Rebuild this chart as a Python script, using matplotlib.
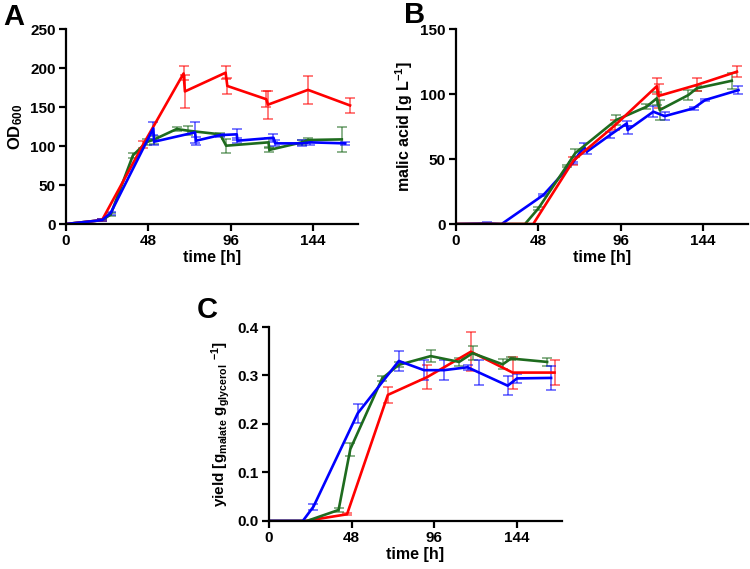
import matplotlib
matplotlib.use('Agg')
import matplotlib.pyplot as plt

plt.rcParams['font.family'] = ['Liberation Sans', 'DejaVu Sans']
plt.rcParams['font.weight'] = 'bold'
plt.rcParams['mathtext.fontset'] = 'custom'
plt.rcParams['mathtext.bf'] = 'Liberation Sans:bold'
plt.rcParams['mathtext.rm'] = 'Liberation Sans:bold'
plt.rcParams['mathtext.default'] = 'bf'

RED = '#ff0000'
GREEN = '#1e6b1e'
BLUE = '#0000ff'

# Panel A: OD600
a_red_t = [0, 21, 45, 68.5, 69.3, 93, 94, 116.7, 117.7, 141, 165.5]
a_red_y = [0, 5, 102, 193, 170, 194, 177, 160, 153, 172, 152]
a_red_e = [0, 1, 5, 9, 21, 8, 10, 10, 18, 18, 10]
a_green_t = [0, 21, 26, 39, 47, 51, 64.5, 71.3, 89.8, 93.3, 118, 118.5, 137.4, 141.3, 160.7]
a_green_y = [0, 5, 12, 88, 105, 108, 121.8, 119.6, 115, 100.4, 104.7, 95, 104.7, 107.7, 108.5]
a_green_e = [0, 1, 2, 3, 4, 5, 3, 6, 2, 9, 6, 3, 3, 3, 16]
a_blue_t = [0, 21, 26, 50.9, 51.3, 75.2, 75.8, 89.8, 99.5, 99.9, 120.9, 121.9, 137.4, 142.3, 162.7]
a_blue_y = [0, 5, 14, 122.7, 105.5, 117.5, 106.8, 114, 115, 106.8, 110.6, 103.4, 103.4, 104.7, 103.4]
a_blue_e = [0, 1, 2, 8, 4, 13, 5, 2, 7, 3, 5, 4, 4, 3, 2]

# Panel B: malic acid
b_red_t = [0, 45, 68.4, 92.7, 117, 118, 140.3, 163.7]
b_red_y = [0, 0, 48.7, 76, 106, 98.5, 107, 117.2]
b_red_e = [0, 0, 3, 4, 6, 9, 5, 4]
b_green_t = [0, 40.2, 48, 64.5, 69.4, 93.3, 111, 117, 118.7, 135.4, 140.3, 160.7]
b_green_y = [0, 0, 12, 44.6, 54.4, 80, 90.2, 96.7, 87.7, 99.2, 104.4, 110.2]
b_green_e = [0, 0, 1, 1, 3, 4, 2, 5, 8, 4, 2, 6]
b_blue_t = [0, 18, 26.6, 50.9, 68, 74.6, 76.2, 89.8, 99.5, 100, 115, 121.6, 138.4, 145.2, 164.6]
b_blue_y = [0, 0.5, 0, 22.3, 47, 59.5, 55.6, 68.5, 77.4, 72.3, 86.4, 83, 89, 95.4, 103]
b_blue_e = [0, 1, 0, 1, 1, 3, 2, 2, 2, 3, 4, 3, 1, 1, 3]

# Panel C: yield
c_red_t = [0, 21, 45.3, 69, 92, 117.2, 141.5, 165.8]
c_red_y = [0, 0, 0.0138, 0.26, 0.297, 0.349, 0.306, 0.306]
c_red_e = [0, 0, 0.002, 0.017, 0.025, 0.04, 0.033, 0.026]
c_green_t = [0, 22, 40.4, 47.2, 65.7, 75.4, 93.9, 110.4, 118.2, 135.7, 140.5, 161.5]
c_green_y = [0, 0, 0.0227, 0.148, 0.294, 0.322, 0.34, 0.328, 0.346, 0.323, 0.335, 0.328]
c_green_e = [0, 0, 0.005, 0.013, 0.005, 0.005, 0.013, 0.008, 0.015, 0.01, 0.003, 0.008]
c_blue_t = [0, 19.6, 25.8, 51.5, 75.4, 90, 101.6, 115.3, 122, 138.6, 144, 163.8]
c_blue_y = [0, 0, 0.0295, 0.222, 0.33, 0.311, 0.311, 0.317, 0.306, 0.279, 0.294, 0.295]
c_blue_e = [0, 0, 0.006, 0.02, 0.02, 0.02, 0.02, 0.005, 0.025, 0.02, 0.01, 0.025]

xticks = [0, 48, 96, 144]

fig = plt.figure(figsize=(7.5, 5.69), dpi=100)
axA = fig.add_axes([0.088, 0.6063, 0.389, 0.3427])
axB = fig.add_axes([0.608, 0.6063, 0.389, 0.3427])
axC = fig.add_axes([0.3587, 0.0844, 0.3903, 0.3409])


def draw(ax, series):
    for t, y, e, c in series:
        ax.errorbar(t, y, yerr=e, color=c, lw=1.9, elinewidth=1.1, capsize=3.5,
                    capthick=1.1, ecolor=(c, 0.65))


draw(axA, [(a_green_t, a_green_y, a_green_e, GREEN),
           (a_red_t, a_red_y, a_red_e, RED),
           (a_blue_t, a_blue_y, a_blue_e, BLUE)])
draw(axB, [(b_blue_t, b_blue_y, b_blue_e, BLUE),
           (b_green_t, b_green_y, b_green_e, GREEN),
           (b_red_t, b_red_y, b_red_e, RED)])
draw(axC, [(c_red_t, c_red_y, c_red_e, RED),
           (c_green_t, c_green_y, c_green_e, GREEN),
           (c_blue_t, c_blue_y, c_blue_e, BLUE)])

for ax in (axA, axB, axC):
    ax.spines['top'].set_visible(False)
    ax.spines['right'].set_visible(False)
    ax.spines['left'].set_linewidth(1.6)
    ax.spines['bottom'].set_linewidth(1.6)
    ax.tick_params(width=1.6, length=5, labelsize=11, pad=2.5)
    ax.set_xlim(0, 170)
    ax.set_xticks(xticks)
    ax.set_xlabel('time [h]', fontsize=11.5, fontweight='bold', labelpad=1)
    for lbl in ax.get_xticklabels() + ax.get_yticklabels():
        lbl.set_fontweight('bold')

axA.set_ylim(0, 250)
axA.set_yticks([0, 50, 100, 150, 200, 250])
axA.set_ylabel('OD$_{600}$', fontsize=12, fontweight='bold', labelpad=4)

axB.set_ylim(0, 150)
axB.set_yticks([0, 50, 100, 150])
axB.set_ylabel('malic acid [g L$^{-1}$]', fontsize=11.5, fontweight='bold', labelpad=4)

axC.set_ylim(0, 0.4)
axC.set_yticks([0.0, 0.1, 0.2, 0.3, 0.4])
axC.set_yticklabels(['0.0', '0.1', '0.2', '0.3', '0.4'])
axC.set_ylabel('yield [g$_{malate}$ g$_{glycerol}$ $^{-1}$]', fontsize=11, fontweight='bold', labelpad=4)

fig.text(0.005, 0.995, 'A', fontsize=21, fontweight='bold', va='top')
fig.text(0.538, 0.998, 'B', fontsize=21, fontweight='bold', va='top')
fig.text(0.262, 0.48, 'C', fontsize=21, fontweight='bold', va='top')

fig.savefig('out.png', dpi=100)
